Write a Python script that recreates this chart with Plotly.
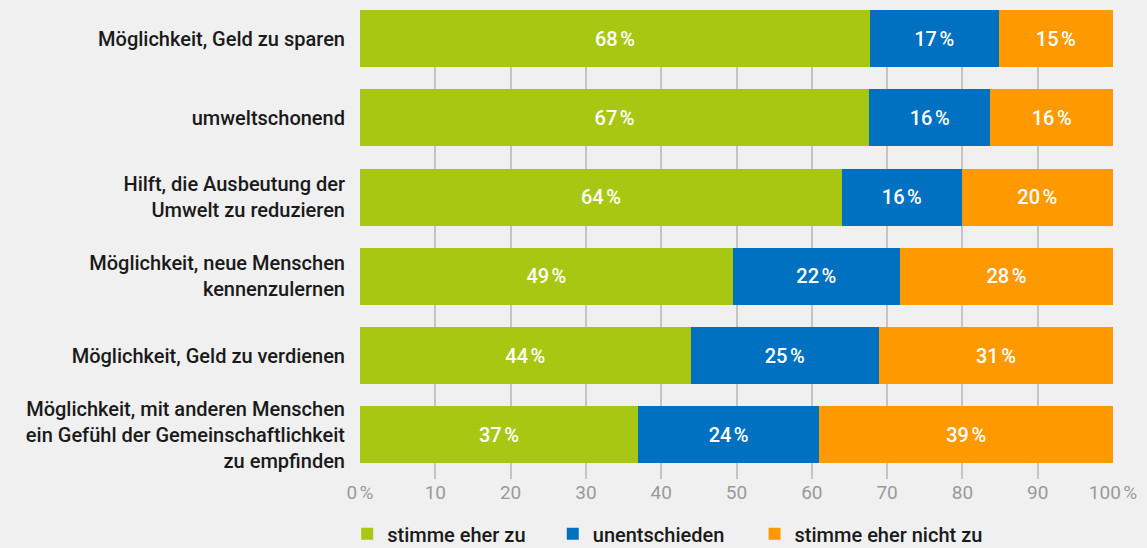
import plotly.graph_objects as go

categories = [
    'Möglichkeit, Geld zu sparen',
    'umweltschonend',
    'Hilft, die Ausbeutung der<br>Umwelt zu reduzieren',
    'Möglichkeit, neue Menschen<br>kennenzulernen',
    'Möglichkeit, Geld zu verdienen',
    'Möglichkeit, mit anderen Menschen<br>ein Gefühl der Gemeinschaftlichkeit<br>zu empfinden',
]

zu = [67.7, 67.6, 64.0, 49.5, 43.9, 36.9]
unentschieden = [17.1, 16.1, 15.9, 22.2, 25.0, 24.1]
nicht_zu = [15.2, 16.3, 20.1, 28.3, 31.1, 39.0]

zu_labels = ['68', '67', '64', '49', '44', '37']
unentschieden_labels = ['17', '16', '16', '22', '25', '24']
nicht_zu_labels = ['15', '16', '20', '28', '31', '39']

tick_vals = [0, 10, 20, 30, 40, 50, 60, 70, 80, 90, 100]
tick_text = ['0\u202f%', '10', '20', '30', '40', '50', '60', '70', '80', '90', '100\u202f%']

# each series gets its own legend box so the spacing matches the original
series = [
    ('stimme eher zu', zu, zu_labels, 'rgb(168,199,18)', 'legend', -0.017),
    ('unentschieden', unentschieden, unentschieden_labels, 'rgb(0,112,192)', 'legend2', 0.256),
    ('stimme eher nicht zu', nicht_zu, nicht_zu_labels, 'rgb(255,153,0)', 'legend3', 0.524),
]

FONT = 'Roboto'

fig = go.Figure()
legends = {}
for name, vals, labels, color, leg, lx in series:
    fig.add_trace(go.Bar(
        y=categories,
        x=vals,
        orientation='h',
        name=name,
        legend=leg,
        marker=dict(color=color, line=dict(width=0)),
        text=[l + '\u202f%' for l in labels],
        textposition='inside',
        insidetextanchor='middle',
        textangle=0,
        constraintext='none',
        textfont=dict(color='white', size=20, family=FONT, weight=500),
    ))
    legends[leg] = dict(
        orientation='h',
        x=lx, xanchor='left',
        yref='container', y=0.026, yanchor='middle',
        font=dict(size=20, family=FONT, weight=500, color='#1a1a1a'),
        bgcolor='rgba(0,0,0,0)',
        itemclick=False,
        itemdoubleclick=False,
    )

fig.update_layout(
    barmode='stack',
    bargap=0.28,
    width=1147,
    height=548,
    margin=dict(l=360, r=31, t=10, b=68),
    paper_bgcolor='#f0f0f0',
    plot_bgcolor='#f0f0f0',
    font=dict(family=FONT, size=20, color='#1a1a1a'),
    showlegend=True,
    **legends,
)

fig.update_xaxes(
    range=[0, 100],
    tickvals=tick_vals,
    ticktext=tick_text,
    showgrid=True,
    gridcolor='#c4c4c4',
    gridwidth=1.5,
    zeroline=False,
    showline=False,
    tickfont=dict(color='#9a9a9a', size=19, family=FONT),
)

fig.update_yaxes(
    categoryorder='array',
    categoryarray=categories,
    range=[5.56, -0.36],
    showgrid=False,
    zeroline=False,
    showline=False,
    ticklabelstandoff=14,
    tickfont=dict(size=20, family=FONT, weight=500, color='#1a1a1a'),
)

fig.write_html('out.html', config={'displayModeBar': False},
               post_script="document.body.style.margin='0';")
